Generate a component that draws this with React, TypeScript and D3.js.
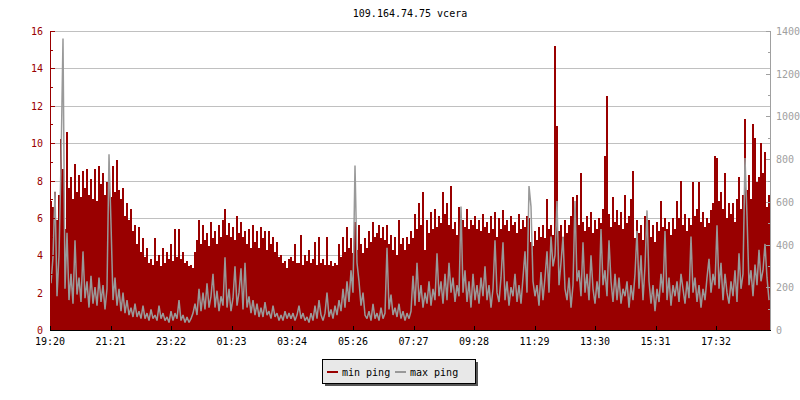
import React from "react";
import * as d3 from "d3";

const title = "109.164.74.75 vcera";
const stepMinutes = 4;
const totalMinutes = 1440;

// min ping (ms), left axis, one value every 4 minutes from 19:20
const minPing = [
  6.9, 6.6, 7.4, 5.9, 7.2, 10.2, 8.6, 5.4, 10.6, 7.6,
  8.2, 7.0, 8.9, 7.4, 8.3, 7.1, 8.5, 7.6, 8.6, 7.2,
  8.1, 7.0, 8.6, 6.9, 8.8, 7.8, 8.4, 7.2, 7.9, 8.0,
  7.1, 8.8, 7.4, 9.1, 7.5, 7.0, 7.6, 6.1, 6.8, 5.9,
  6.5, 5.3, 5.6, 4.6, 5.5, 4.2, 4.9, 3.9, 4.4, 3.6,
  3.8, 3.5, 4.9, 3.7, 4.0, 3.4, 4.4, 3.6, 4.2, 3.8,
  4.6, 3.7, 5.4, 3.9, 5.4, 3.8, 4.2, 3.6, 3.7, 3.4,
  3.5, 3.3, 4.2, 4.8, 5.9, 4.6, 5.6, 4.8, 5.2, 4.5,
  5.8, 4.9, 5.3, 4.6, 5.6, 5.0, 5.9, 6.5, 5.1, 5.7,
  5.0, 5.5, 4.8, 6.1, 5.2, 5.8, 5.0, 5.3, 4.6, 5.4,
  4.4, 5.6, 4.7, 5.3, 4.4, 5.5, 4.9, 5.3, 4.3, 5.3,
  4.6, 5.0, 4.2, 4.7, 3.9, 4.0, 3.6, 3.7, 3.3, 3.8,
  3.9, 3.7, 4.6, 3.6, 3.6, 5.1, 3.5, 4.0, 3.7, 4.3,
  3.6, 3.8, 4.7, 3.5, 5.0, 3.6, 3.8, 3.5, 5.0, 3.5,
  3.7, 3.4, 3.6, 3.5, 4.6, 3.9, 5.0, 4.2, 5.5, 4.4,
  4.9, 4.1, 5.8, 4.3, 5.6, 4.6, 4.1, 4.9, 4.4, 5.3,
  4.7, 5.8, 5.0, 5.2, 5.6, 4.9, 5.5, 4.8, 5.6, 4.6,
  5.1, 4.3, 5.0, 4.0, 5.9, 4.6, 4.9, 4.3, 5.0, 4.6,
  5.3, 4.9, 6.2, 5.4, 6.8, 5.6, 7.4, 4.3, 5.9, 5.2,
  6.3, 5.4, 6.5, 5.5, 6.1, 5.7, 7.4, 6.2, 6.8, 5.6,
  7.7, 5.4, 5.8, 5.1, 6.6, 5.3, 5.9, 5.5, 6.5, 5.4,
  5.9, 5.6, 6.1, 5.4, 5.9, 5.3, 6.2, 5.5, 5.8, 5.2,
  6.1, 5.4, 6.3, 5.0, 6.0, 5.4, 6.4, 5.6, 5.9, 5.3,
  6.1, 5.6, 5.8, 5.2, 6.2, 5.4, 5.9, 5.5, 6.1, 6.0,
  4.7, 4.5, 5.3, 4.8, 5.5, 5.0, 5.6, 4.9, 7.0, 5.4,
  5.6, 5.1, 15.2, 10.9, 5.3, 5.6, 5.0, 5.9, 5.2, 5.6,
  6.1, 7.1, 5.4, 7.2, 5.6, 8.4, 5.8, 5.3, 6.1, 5.5,
  6.3, 5.2, 5.9, 5.4, 6.0, 5.7, 6.5, 9.3, 12.5, 6.2,
  5.5, 7.1, 5.8, 6.4, 5.6, 6.3, 5.4, 7.2, 5.7, 6.1,
  7.0, 8.5, 4.9, 5.9, 5.2, 5.6, 4.8, 6.1, 5.4, 5.9,
  5.0, 5.6, 4.7, 5.8, 5.3, 6.9, 5.5, 6.0, 5.4, 5.8,
  5.1, 6.0, 5.4, 6.9, 6.0, 8.0, 5.6, 6.2, 5.3, 6.0,
  5.6, 7.9, 6.1, 6.5, 7.9, 5.8, 6.3, 5.5, 6.0, 5.7,
  6.4, 6.8, 9.3, 9.2, 6.9, 7.4, 6.5, 8.4, 6.0, 6.8,
  6.2, 6.8, 5.8, 7.0, 8.2, 6.5, 7.2, 11.3, 7.5, 8.3,
  7.0, 11.0, 10.3, 7.9, 8.2, 10.0, 8.4, 9.5, 6.6, 7.2,
];

// max ping (ms), right axis, one value every 4 minutes from 19:20
const maxPing = [
  219, 341, 648, 158, 350, 779, 1365, 193, 455, 140,
  263, 123, 420, 166, 245, 131, 368, 149, 228, 105,
  254, 123, 201, 114, 245, 131, 210, 96, 193, 823,
  499, 140, 245, 114, 193, 88, 175, 79, 140, 70,
  105, 61, 123, 61, 88, 53, 114, 53, 79, 44,
  96, 53, 70, 44, 114, 53, 79, 44, 61, 35,
  88, 44, 79, 53, 140, 44, 70, 35, 61, 35,
  53, 79, 123, 70, 193, 88, 175, 96, 219, 105,
  158, 263, 105, 184, 88, 158, 114, 341, 105, 193,
  88, 149, 298, 114, 175, 289, 96, 315, 105, 158,
  79, 140, 70, 123, 61, 105, 61, 131, 70, 88,
  53, 114, 61, 79, 44, 70, 44, 88, 53, 79,
  53, 79, 44, 70, 114, 53, 79, 44, 61, 35,
  79, 44, 114, 53, 140, 70, 44, 79, 175, 61,
  96, 53, 114, 70, 140, 88, 193, 105, 228, 131,
  280, 175, 770, 315, 228, 114, 175, 70, 53, 88,
  44, 123, 53, 79, 44, 105, 53, 79, 385, 96,
  166, 70, 105, 61, 123, 53, 88, 44, 79, 53,
  88, 254, 114, 315, 131, 210, 105, 175, 123, 228,
  114, 193, 140, 359, 158, 228, 123, 263, 140, 315,
  175, 245, 131, 210, 158, 578, 175, 280, 131, 228,
  105, 263, 140, 210, 123, 245, 158, 298, 140, 210,
  105, 193, 420, 175, 131, 245, 411, 140, 228, 114,
  201, 158, 263, 131, 210, 123, 245, 368, 175, 674,
  578, 228, 158, 210, 114, 271, 140, 245, 368, 175,
  438, 298, 350, 604, 210, 315, 438, 193, 140, 245,
  105, 210, 604, 228, 280, 158, 411, 175, 263, 140,
  350, 193, 123, 228, 149, 473, 210, 280, 158, 420,
  228, 131, 263, 140, 245, 123, 193, 158, 228, 105,
  210, 140, 263, 464, 193, 350, 140, 298, 560, 228,
  123, 210, 88, 193, 131, 263, 175, 464, 140, 245,
  114, 210, 158, 228, 131, 263, 193, 123, 228, 149,
  438, 175, 245, 131, 210, 105, 193, 140, 245, 333,
  175, 263, 210, 490, 193, 315, 140, 263, 175, 123,
  228, 158, 280, 131, 359, 193, 263, 805, 534, 210,
  280, 158, 306, 210, 376, 228, 280, 403, 245, 140,
];

const timeTickMinutes = [0, 121, 242, 363, 484, 606, 727, 848, 969, 1090, 1211, 1332];
const timeTickLabels = ["19:20", "21:21", "23:22", "01:23", "03:24", "05:26", "07:27", "09:28", "11:29", "13:30", "15:31", "17:32"];
const leftTicks = [0, 2, 4, 6, 8, 10, 12, 14, 16];
const leftMinorTicks = [1, 3, 5, 7, 9, 11, 13, 15];
const rightTicks = [0, 200, 400, 600, 800, 1000, 1200, 1400];
const rightMinorTicks = [100, 300, 500, 700, 900, 1100, 1300];
const legendLabels = ["min ping", "max ping"];

const RED = "#990000";
const GREY = "#999999";
const AXIS_GREY = "#a0a0a0";
const FONT = "'DejaVu Sans Mono', monospace";

export default function App() {
  const left = 50, right = 770, top = 31, bottom = 330;
  const x = d3.scaleLinear().domain([0, totalMinutes]).range([left, right]);
  const yL = d3.scaleLinear().domain([0, 16]).range([bottom, top]);
  const yR = d3.scaleLinear().domain([0, 1400]).range([bottom, top]);

  const minPts: [number, number][] = minPing.map((v, i) => [i * stepMinutes, v]);
  minPts.push([totalMinutes, minPing[minPing.length - 1]]);
  const maxPts: [number, number][] = maxPing.map((v, i) => [i * stepMinutes + stepMinutes / 2, v]);

  const area = d3
    .area<[number, number]>()
    .x((d) => x(d[0]))
    .y0(bottom)
    .y1((d) => yL(d[1]))
    .curve(d3.curveStepAfter);
  const line = d3
    .line<[number, number]>()
    .x((d) => x(d[0]))
    .y((d) => yR(d[1]))
    .curve(d3.curveLinear);

  const py = (v: number) => Math.round(v) + 0.5;

  return (
    <svg
      width={800}
      height={400}
      style={{ position: "absolute", left: 0, top: 0, background: "#fff" }}
      fontFamily={FONT}
      fontSize={10}
    >
      <rect x={0} y={0} width={800} height={400} fill="#fff" />
      <text x={410} y={17} textAnchor="middle" fill="#000">{title}</text>

      {leftTicks.map((t) => (
        <line key={"g" + t} x1={left} x2={right} y1={py(yL(t))} y2={py(yL(t))} stroke="#c0c0c0" strokeWidth={1} />
      ))}

      <path d={area(minPts) || ""} fill={RED} shapeRendering="crispEdges" />
      <path d={line(maxPts) || ""} fill="none" stroke={GREY} strokeWidth={1.5} strokeLinejoin="bevel" />

      <line x1={left + 0.5} x2={left + 0.5} y1={top} y2={bottom} stroke={RED} />
      {leftTicks.map((t) => (
        <g key={"l" + t}>
          <line x1={left} x2={left + 5} y1={py(yL(t))} y2={py(yL(t))} stroke={RED} />
          <text x={43} y={yL(t) + 4} textAnchor="end" fill={RED}>{t}</text>
        </g>
      ))}
      {leftMinorTicks.map((t) => (
        <line key={"lm" + t} x1={left} x2={left + 3} y1={py(yL(t))} y2={py(yL(t))} stroke={RED} />
      ))}

      <line x1={right + 0.5} x2={right + 0.5} y1={top} y2={bottom} stroke={AXIS_GREY} />
      {rightTicks.map((t) => (
        <g key={"r" + t}>
          <line x1={right - 4} x2={right + 1} y1={py(yR(t))} y2={py(yR(t))} stroke={AXIS_GREY} />
          <text x={776} y={yR(t) + 4} textAnchor="start" fill={AXIS_GREY}>{t}</text>
        </g>
      ))}
      {rightMinorTicks.map((t) => (
        <line key={"rm" + t} x1={right - 2} x2={right + 1} y1={py(yR(t))} y2={py(yR(t))} stroke={AXIS_GREY} />
      ))}

      <line x1={left} x2={right + 1} y1={bottom + 0.5} y2={bottom + 0.5} stroke="#000" />
      {timeTickMinutes.map((m, i) => (
        <g key={"t" + m}>
          <line x1={py(x(m))} x2={py(x(m))} y1={bottom - 4} y2={bottom + 1} stroke="#000" />
          <text x={x(m)} y={345} textAnchor="middle" fill="#000">{timeTickLabels[i]}</text>
        </g>
      ))}

      <rect x={325} y={362} width={153} height={24} fill="#555" />
      <rect x={322.5} y={359.5} width={153} height={24} fill="#e8e8e8" stroke="#000" />
      <line x1={327} x2={338} y1={372} y2={372} stroke={RED} strokeWidth={2} />
      <text x={342} y={375.5} fill="#000">{legendLabels[0]}</text>
      <line x1={395} x2={406} y1={372} y2={372} stroke={GREY} strokeWidth={2} />
      <text x={410} y={375.5} fill="#000">{legendLabels[1]}</text>
    </svg>
  );
}
